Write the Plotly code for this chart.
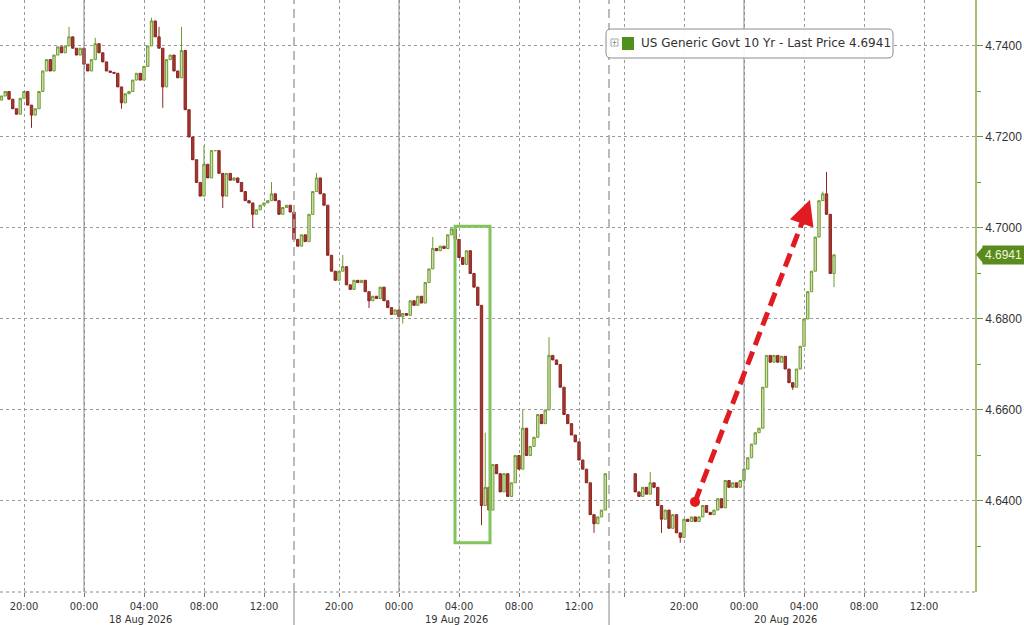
import pandas as pd
import plotly.graph_objects as go

# ---------------- data (15-minute bars, closes) ----------------
s1_start = "2026-08-17 18:30"
s1_open0 = 4.7281
s1_close = [4.7290, 4.7300, 4.7283, 4.7262, 4.7250, 4.7285, 4.7300, 4.7270, 4.7248, 4.7262,
            4.7300, 4.7345, 4.7370, 4.7345, 4.7380, 4.7398, 4.7385, 4.7400, 4.7420, 4.7395,
            4.7380, 4.7395, 4.7360, 4.7345, 4.7370, 4.7405, 4.7385, 4.7365, 4.7345, 4.7342,
            4.7340, 4.7310, 4.7275, 4.7295, 4.7300, 4.7325, 4.7340, 4.7325, 4.7355, 4.7400,
            4.7455, 4.7420, 4.7395, 4.7310, 4.7370, 4.7380, 4.7345, 4.7330, 4.7390, 4.7260,
            4.7200, 4.7150, 4.7100, 4.7070, 4.7140, 4.7110, 4.7170, 4.7170, 4.7120, 4.7070,
            4.7120, 4.7105, 4.7110, 4.7100, 4.7080, 4.7060, 4.7055, 4.7030, 4.7040, 4.7050,
            4.7055, 4.7060, 4.7075, 4.7060, 4.7030, 4.7045, 4.7050, 4.7035]

s2_start = "2026-08-18 17:00"
s2_close = [4.6975, 4.6960, 4.6985, 4.6970, 4.7030, 4.7080, 4.7110, 4.7075, 4.7050, 4.6940,
            4.6905, 4.6885, 4.6905, 4.6915, 4.6875, 4.6865, 4.6885, 4.6880, 4.6885, 4.6860,
            4.6840, 4.6850, 4.6845, 4.6870, 4.6840, 4.6825, 4.6810, 4.6820, 4.6805, 4.6812,
            4.6808, 4.6840, 4.6830, 4.6850, 4.6835, 4.6880, 4.6910, 4.6955, 4.6950, 4.6960,
            4.6955, 4.6985, 4.6998, 4.6975, 4.6935, 4.6920, 4.6950, 4.6900, 4.6870, 4.6830,
            4.6390, 4.6430, 4.6380, 4.6480, 4.6460, 4.6420, 4.6460, 4.6410, 4.6440, 4.6500,
            4.6470, 4.6560, 4.6500, 4.6520, 4.6540, 4.6590, 4.6570, 4.6600, 4.6720, 4.6710,
            4.6700, 4.6650, 4.6590, 4.6570, 4.6545, 4.6530, 4.6490, 4.6470, 4.6440, 4.6370,
            4.6350, 4.6365, 4.6380, 4.6460]

s3_start = "2026-08-19 16:45"
s3_close = [4.6420, 4.6410, 4.6430, 4.6415, 4.6440, 4.6430, 4.6390, 4.6360, 4.6380, 4.6340,
            4.6370, 4.6330, 4.6320, 4.6360, 4.6355, 4.6365, 4.6355, 4.6365, 4.6390, 4.6375,
            4.6370, 4.6380, 4.6405, 4.6385, 4.6445, 4.6430, 4.6440, 4.6430, 4.6445, 4.6470,
            4.6495, 4.6525, 4.6550, 4.6560, 4.6650, 4.6720, 4.6705, 4.6720, 4.6705, 4.6718,
            4.6690, 4.6660, 4.6650, 4.6690, 4.6740, 4.6800, 4.6860, 4.6905, 4.6980, 4.7060,
            4.7075, 4.7030, 4.6900, 4.6941]

# wicks that stick out beyond the candle bodies
wick_high = {"2026-08-17 23:00": 4.7442, "2026-08-18 00:45": 4.7418, "2026-08-18 04:30": 4.7462,
             "2026-08-18 05:00": 4.7442, "2026-08-18 06:30": 4.7442, "2026-08-18 08:00": 4.7182,
             "2026-08-18 12:30": 4.7101, "2026-08-18 18:30": 4.7121, "2026-08-18 20:15": 4.6941,
             "2026-08-19 02:15": 4.6980, "2026-08-19 05:45": 4.6550, "2026-08-19 08:15": 4.6600,
             "2026-08-19 10:00": 4.6760, "2026-08-19 17:45": 4.6464, "2026-08-20 05:15": 4.7080,
             "2026-08-20 05:30": 4.7123}
wick_low = {"2026-08-17 20:30": 4.7220, "2026-08-18 02:30": 4.7262, "2026-08-18 05:15": 4.7264,
            "2026-08-18 09:15": 4.7044, "2026-08-18 11:15": 4.7000, "2026-08-18 22:00": 4.6824,
            "2026-08-19 00:15": 4.6790, "2026-08-19 05:30": 4.6347, "2026-08-19 13:00": 4.6330,
            "2026-08-19 18:30": 4.6330, "2026-08-19 19:45": 4.6308, "2026-08-20 03:15": 4.6644,
            "2026-08-20 06:00": 4.6870}

x_tick_times = ["2026-08-17 20:00", "2026-08-18 00:00", "2026-08-18 04:00", "2026-08-18 08:00",
                "2026-08-18 12:00", "2026-08-18 20:00", "2026-08-19 00:00", "2026-08-19 04:00",
                "2026-08-19 08:00", "2026-08-19 12:00", "2026-08-19 16:00", "2026-08-19 20:00",
                "2026-08-20 00:00", "2026-08-20 04:00", "2026-08-20 08:00", "2026-08-20 12:00"]
x_tick_text = ["20:00", "00:00", "04:00", "08:00", "12:00", "20:00", "00:00", "04:00",
               "08:00", "12:00", "", "20:00", "00:00", "04:00", "08:00", "12:00"]
midnights = ["2026-08-18 00:00", "2026-08-19 00:00", "2026-08-20 00:00"]
session_breaks = ["2026-08-18 14:00", "2026-08-19 14:00"]
break_hours = [3, 1]
date_labels = ["18 Aug 2026", "19 Aug 2026", "20 Aug 2026"]
date_label_pos = ["2026-08-18 03:45", "2026-08-19 03:50", "2026-08-20 02:45"]
y_ticks = [4.64, 4.66, 4.68, 4.70, 4.72, 4.74]
last_price = 4.6941

# ---------------- build OHLC ----------------
times = []
for start, closes in [(s1_start, s1_close), (s2_start, s2_close), (s3_start, s3_close)]:
    times += list(pd.date_range(start, periods=len(closes), freq="15min"))
closes = s1_close + s2_close + s3_close
opens = [s1_open0] + closes[:-1]
highs, lows = [], []
for t, o, c in zip(times, opens, closes):
    key = t.strftime("%Y-%m-%d %H:%M")
    highs.append(max(o, c, wick_high.get(key, 0)))
    lows.append(min(o, c, wick_low.get(key, 99)))

GREEN = "#6e9b2f"
fig = go.Figure(go.Candlestick(
    x=times, open=opens, high=highs, low=lows, close=closes,
    increasing=dict(line=dict(color=GREEN, width=1), fillcolor="#cfdfae"),
    decreasing=dict(line=dict(color="#8e2424", width=1), fillcolor="#a23a2a"),
    whiskerwidth=0, hoverinfo="skip"))

GRID = "#9a9a9a"
fig.update_layout(
    width=1024, height=625, margin=dict(l=0, r=49, t=0, b=33, autoexpand=False),
    paper_bgcolor="white", plot_bgcolor="white", showlegend=False, boxgap=0.1,
    xaxis=dict(type="date", range=["2026-08-17 18:24", "2026-08-20 15:24"], automargin=False,
               rangebreaks=[dict(values=[b], dvalue=h * 3600000) for b, h in zip(session_breaks, break_hours)],
               rangeslider=dict(visible=False),
               tickmode="array", tickvals=x_tick_times, ticktext=x_tick_text,
               showgrid=True, gridcolor=GRID, griddash="dot", gridwidth=1,
               ticks="outside", ticklen=4, tickcolor="#777", zeroline=False, showline=False,
               tickfont=dict(family="DejaVu Sans Condensed", size=11, color="#333")),
    yaxis=dict(side="right", range=[4.6200, 4.7501], tickmode="array", tickvals=y_ticks,
               automargin=False,
               tickformat=".4f", showgrid=True, gridcolor=GRID, griddash="dot", gridwidth=1,
               ticks="outside", ticklen=6, tickcolor=GREEN, showline=True, linecolor="#a6c078",
               linewidth=1.5, zeroline=False,
               tickfont=dict(family="Liberation Sans", size=12, color="#333"),
               minor=dict(tickvals=[4.63, 4.65, 4.67, 4.69, 4.71, 4.73], ticks="outside",
                          ticklen=4, tickcolor=GREEN, showgrid=False)),
)

shapes = []
for m in midnights:
    shapes.append(dict(type="line", xref="x", yref="paper", x0=m, x1=m, y0=0, y1=1,
                       line=dict(color="#8a8a8a", width=1)))
for b in session_breaks:
    shapes.append(dict(type="line", xref="x", yref="paper", x0=b, x1=b, y0=0, y1=1,
                       line=dict(color="#aaaaaa", width=1.6, dash="9px,5px")))
    shapes.append(dict(type="line", xref="x", yref="paper", x0=b, x1=b, y0=-0.06, y1=0,
                       line=dict(color="#888", width=1)))
# bottom dotted axis line
shapes.append(dict(type="line", xref="paper", yref="paper", x0=0, x1=1, y0=0, y1=0,
                   line=dict(color="#888", width=1, dash="dot")))
# green highlight box
shapes.append(dict(type="rect", xref="x", yref="y", x0="2026-08-19 03:44", x1="2026-08-19 06:04",
                   y0=4.6308, y1=4.7004, line=dict(color="#82c45c", width=3)))
# red dashed arrow
arrow_start = ("2026-08-19 20:44", 4.6398)
arrow_tip = ("2026-08-20 04:24", 4.7062)
RED = "#e11b22"
shapes.append(dict(type="line", xref="x", yref="y", x0=arrow_start[0], y0=arrow_start[1],
                   x1="2026-08-20 03:58", y1=4.7020,
                   line=dict(color=RED, width=5, dash="14px,7px")))
shapes.append(dict(type="circle", xref="x", yref="y", xsizemode="pixel", ysizemode="pixel",
                   xanchor=arrow_start[0], yanchor=arrow_start[1], x0=-5, x1=5, y0=-5, y1=5,
                   fillcolor=RED, line=dict(color=RED, width=0)))
# legend box with rounded corners (pixel box -> paper coords)
PW, PH = 975.0, 592.0
bx0, bx1, by0, by1, r = 606, 893, 29, 58, 5
def P(px, py):
    return f"{px / PW:.5f},{1 - py / PH:.5f}"
path = (f"M {P(bx0 + r, by0)} L {P(bx1 - r, by0)} Q {P(bx1, by0)} {P(bx1, by0 + r)} "
        f"L {P(bx1, by1 - r)} Q {P(bx1, by1)} {P(bx1 - r, by1)} L {P(bx0 + r, by1)} "
        f"Q {P(bx0, by1)} {P(bx0, by1 - r)} L {P(bx0, by0 + r)} Q {P(bx0, by0)} {P(bx0 + r, by0)} Z")
shapes.append(dict(type="path", xref="paper", yref="paper", path=path,
                   fillcolor="rgba(255,255,255,0.92)", line=dict(color="#8c8c8c", width=1)))
shapes.append(dict(type="rect", xref="paper", yref="paper", x0=622 / PW, x1=634 / PW,
                   y0=1 - 50 / PH, y1=1 - 37 / PH, fillcolor="#4f8f1c", line=dict(width=0)))
shapes.append(dict(type="rect", xref="paper", yref="paper", x0=611 / PW, x1=618 / PW,
                   y0=1 - 46 / PH, y1=1 - 39 / PH, fillcolor="white", line=dict(color="#aaa", width=1)))
shapes.append(dict(type="path", xref="paper", yref="paper",
                   path=f"M {P(612.5, 42.5)} L {P(616.5, 42.5)} M {P(614.5, 40.5)} L {P(614.5, 44.5)}",
                   line=dict(color="#999", width=1)))
# last-price marker pointer
shapes.append(dict(type="path", xref="paper", yref="y",
                   path=f"M {976 / PW:.5f},{last_price} L {983 / PW:.5f},{last_price + 0.0018} "
                        f"L {983 / PW:.5f},{last_price - 0.0018} Z",
                   fillcolor="#5b8a1e", line=dict(width=0)))
fig.update_layout(shapes=shapes)

annotations = []
for lab, pos in zip(date_labels, date_label_pos):
    annotations.append(dict(x=pos, xref="x", y=-0.046, yref="paper", text=lab, showarrow=False,
                            yanchor="middle", font=dict(family="DejaVu Sans Condensed", size=11, color="#333")))
annotations.append(dict(x=639 / PW, y=1 - 43.5 / PH, xref="paper", yref="paper", xanchor="left",
                        yanchor="middle", showarrow=False,
                        text=f"US Generic Govt 10 Yr - Last Price {last_price:.4f}",
                        font=dict(family="DejaVu Sans", size=12, color="#333")))
annotations.append(dict(x=1, xref="paper", y=last_price, yref="y", xanchor="left", xshift=7,
                        yanchor="middle", showarrow=False, text=f"{last_price:.4f}",
                        bgcolor="#5b8a1e", borderpad=2,
                        font=dict(family="Liberation Sans", size=12, color="#eef7dc")))
annotations.append(dict(x=arrow_tip[0], y=arrow_tip[1], xref="x", yref="y", ax=-6, ay=17,
                        axref="pixel", ayref="pixel", showarrow=True, arrowhead=2, arrowsize=1,
                        arrowwidth=5, arrowcolor=RED, text=""))
fig.update_layout(annotations=annotations)

fig.write_html("out.html", config={"displayModeBar": False},
               post_script="document.body.style.margin='0';document.body.style.overflow='hidden';")
